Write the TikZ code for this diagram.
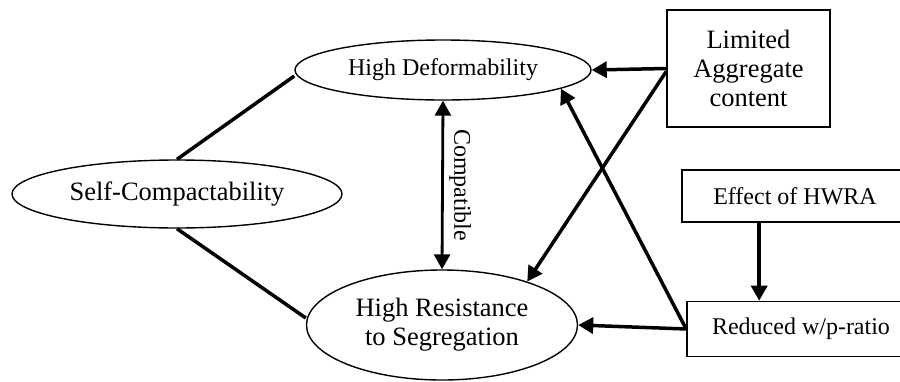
\documentclass[tikz,border=0pt]{standalone}
\usepackage{fontspec}
\setmainfont{Liberation Serif}
\usetikzlibrary{arrows.meta,positioning,shapes.geometric}

\begin{document}
\begin{tikzpicture}[
    x=1pt, y=-1pt,
    property/.style={draw, ellipse, line width=1.4pt, inner sep=0pt, align=center},
    block/.style={draw, rectangle, line width=1.6pt, inner sep=0pt, align=center},
    bigtext/.style={font=\fontsize{26.5}{29}\selectfont},
    smalltext/.style={font=\fontsize{24}{28}\selectfont},
    arrow/.style={-{Triangle[length=15pt,width=16pt]}, line width=3.5pt},
    link/.style={line width=3.5pt},
]
    \useasboundingbox (0,0) rectangle (900,381);
    \clip (0,0) rectangle (900,381);

    \node[property, smalltext, minimum width=296pt, minimum height=60pt] (deform) at (443,70) {High Deformability};
    \node[property, bigtext, minimum width=330pt, minimum height=68pt] (selfcomp) at (177,194) {Self-Compactability};
    \node[property, bigtext, minimum width=271pt, minimum height=110pt] (resist) at (442,325) {High Resistance\\to Segregation};

    \node[block, bigtext, minimum width=163pt, minimum height=117pt] (aggregate) at (748.5,68.5) {Limited\\Aggregate\\content};
    \node[block, smalltext, minimum width=226pt, minimum height=52pt] (hwra) at (795,196) {Effect of HWRA};
    \node[block, smalltext, minimum width=228pt, minimum height=55pt] (ratio) at (801,329) {Reduced w/p-ratio};

    \draw[link] (selfcomp.north) -- ([yshift=-6pt]deform.west);
    \draw[link] (selfcomp.south) -- ([yshift=7pt]resist.west);

    \draw[{Triangle[length=15pt,width=16pt]}-{Triangle[length=15pt,width=16pt]}, line width=2.8pt]
        (deform.south) -- node[right=2pt, smalltext, rotate=-90, anchor=south] {Compatible} (resist.north);

    \draw[arrow] (aggregate.west) -- (deform.east);
    \draw[arrow] ([yshift=-3pt]aggregate.west) -- (resist.27);
    \draw[arrow] (ratio.west) -- (resist.east);
    \draw[arrow] (ratio.west) -- (deform.-9);
    \draw[arrow] ([xshift=78pt]hwra.south west) -- ([xshift=78pt]hwra.south west |- ratio.north);
\end{tikzpicture}
\end{document}
